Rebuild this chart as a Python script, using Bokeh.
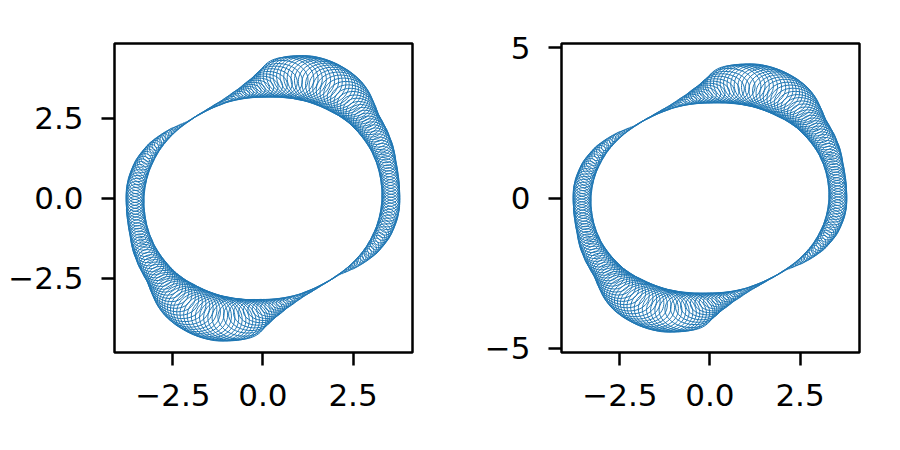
import math
from bokeh.plotting import figure
from bokeh.models import ColumnDataSource, Range1d, FixedTicker
from bokeh.layouts import row
from bokeh.embed import file_html
from bokeh.resources import INLINE

# The traced band, every 1.5 degrees over half a turn (the other half is
# its mirror through the origin): direction of the station (degrees), inner and outer edge
# of the band of little loops at that direction (data units from the origin).
station_angle_deg = [-46, -44.5, -43, -41.5, -40, -38.5, -37, -35.5, -34, -32.5,
                     -31, -29.5, -28, -26.5, -25, -23.5, -22, -20.5, -19, -17.5,
                     -16, -14.5, -13, -11.5, -10, -8.5, -7, -5.5, -4, -2.5,
                     -1, 0.5, 2, 3.5, 5, 6.5, 8, 9.5, 11, 12.5,
                     14, 15.5, 17, 18.5, 20, 21.5, 23, 24.5, 26, 27.5,
                     29, 30.5, 32, 33.5, 35, 36.5, 38, 39.5, 41, 42.5,
                     44, 45.5, 47, 48.5, 50, 51.5, 53, 54.5, 56, 57.5,
                     59, 60.5, 62, 63.5, 65, 66.5, 68, 69.5, 71, 72.5,
                     74, 75.5, 77, 78.5, 80, 81.5, 83, 84.5, 86, 87.5,
                     89, 90.5, 92, 93.5, 95, 96.5, 98, 99.5, 101, 102.5,
                     104, 105.5, 107, 108.5, 110, 111.5, 113, 114.5, 116, 117.5,
                     119, 120.5, 122, 123.5, 125, 126.5, 128, 129.5, 131, 132.5]
band_inner = [3.18, 3.18, 3.19, 3.19, 3.20, 3.20, 3.21, 3.21, 3.22, 3.22,
              3.23, 3.23, 3.24, 3.24, 3.24, 3.25, 3.25, 3.25, 3.26, 3.26,
              3.27, 3.27, 3.27, 3.28, 3.28, 3.28, 3.29, 3.29, 3.29, 3.30,
              3.30, 3.30, 3.30, 3.31, 3.31, 3.31, 3.31, 3.32, 3.32, 3.32,
              3.33, 3.33, 3.33, 3.34, 3.34, 3.34, 3.34, 3.35, 3.35, 3.35,
              3.35, 3.35, 3.35, 3.35, 3.35, 3.35, 3.35, 3.35, 3.35, 3.35,
              3.35, 3.35, 3.34, 3.34, 3.33, 3.33, 3.32, 3.31, 3.30, 3.30,
              3.29, 3.29, 3.28, 3.28, 3.27, 3.27, 3.26, 3.26, 3.25, 3.24,
              3.23, 3.23, 3.22, 3.21, 3.20, 3.20, 3.19, 3.18, 3.17, 3.17,
              3.16, 3.16, 3.16, 3.16, 3.16, 3.16, 3.16, 3.16, 3.16, 3.16,
              3.16, 3.16, 3.16, 3.16, 3.16, 3.15, 3.15, 3.15, 3.15, 3.15,
              3.15, 3.15, 3.15, 3.15, 3.16, 3.16, 3.16, 3.16, 3.17, 3.17]
band_outer = [3.21, 3.24, 3.27, 3.30, 3.33, 3.37, 3.40, 3.43, 3.46, 3.49,
              3.52, 3.55, 3.58, 3.61, 3.63, 3.65, 3.67, 3.69, 3.71, 3.73,
              3.74, 3.75, 3.76, 3.77, 3.78, 3.79, 3.79, 3.80, 3.80, 3.80,
              3.80, 3.80, 3.80, 3.80, 3.80, 3.81, 3.81, 3.82, 3.82, 3.83,
              3.84, 3.85, 3.86, 3.87, 3.89, 3.91, 3.93, 3.95, 3.97, 3.99,
              4.00, 4.02, 4.04, 4.06, 4.07, 4.09, 4.11, 4.13, 4.15, 4.18,
              4.22, 4.26, 4.31, 4.35, 4.40, 4.45, 4.50, 4.54, 4.58, 4.61,
              4.63, 4.65, 4.66, 4.67, 4.68, 4.68, 4.68, 4.67, 4.66, 4.63,
              4.60, 4.57, 4.54, 4.50, 4.46, 4.35, 4.24, 4.15, 4.06, 3.97,
              3.89, 3.82, 3.76, 3.70, 3.64, 3.58, 3.53, 3.49, 3.45, 3.41,
              3.37, 3.34, 3.31, 3.28, 3.26, 3.24, 3.23, 3.21, 3.20, 3.19,
              3.18, 3.17, 3.17, 3.17, 3.17, 3.17, 3.17, 3.18, 3.18, 3.19]

x_ticks = [-2.5, 0, 2.5]
x_tick_labels = ["\u22122.5", "0.0", "2.5"]
left_y_ticks = [-2.5, 0, 2.5]
left_y_tick_labels = ["\u22122.5", "0.0", "2.5"]
right_y_ticks = [-5, 0, 5]
right_y_tick_labels = ["\u22125", "0", "5"]

LINE_COLOR = "#1f77b4"
KAPPA = 0.5523       # cubic Bezier handle length for a quarter ellipse
LOOP_STRETCH = 0.12  # extra half length of each little loop along the band


def loop_table(angles, inner, outer):
    cols = {k: [] for k in ("x0", "y0", "x1", "y1", "cx0", "cy0", "cx1", "cy1")}
    for ang, rin, rout in zip(angles, inner, outer):
        t = math.radians(ang)
        c, s = math.cos(t), math.sin(t)
        mid = (rin + rout) / 2.0
        half = (rout - rin) / 2.0
        along = half + LOOP_STRETCH
        u = (half * c, half * s)
        v = (-along * s, along * c)
        rel = [u, v, (-u[0], -u[1]), (-v[0], -v[1])]
        for sign in (1, -1):
            ox, oy = sign * mid * c, sign * mid * s
            for i in range(4):
                a = rel[i]
                b = rel[(i + 1) % 4]
                cols["x0"].append(ox + a[0]); cols["y0"].append(oy + a[1])
                cols["x1"].append(ox + b[0]); cols["y1"].append(oy + b[1])
                cols["cx0"].append(ox + a[0] + KAPPA * b[0]); cols["cy0"].append(oy + a[1] + KAPPA * b[1])
                cols["cx1"].append(ox + b[0] + KAPPA * a[0]); cols["cy1"].append(oy + b[1] + KAPPA * a[1])
    return cols


def style_axis(ax, ticks, labels, standoff):
    ax.ticker = FixedTicker(ticks=ticks)
    ax.major_label_overrides = dict(zip(ticks, labels))
    ax.minor_tick_line_color = None
    ax.major_tick_out = 13
    ax.major_tick_in = 0
    ax.major_tick_line_width = 2.5
    ax.major_tick_line_color = "black"
    ax.axis_line_color = None
    ax.major_label_text_font = "DejaVu Sans"
    ax.major_label_text_font_size = "31px"
    ax.major_label_text_color = "black"
    ax.major_label_standoff = standoff


def make_fig(y_start, y_end, y_ticks, y_labels, border_left, border_right):
    p = figure(x_range=Range1d(-4.12, 4.15), y_range=Range1d(y_start, y_end),
               frame_width=298, frame_height=309,
               min_border_left=border_left, min_border_right=border_right,
               min_border_top=43, min_border_bottom=60,
               output_backend="svg", toolbar_location=None)
    src = ColumnDataSource(loop_table(station_angle_deg, band_inner, band_outer))
    p.bezier(x0="x0", y0="y0", x1="x1", y1="y1", cx0="cx0", cy0="cy0",
             cx1="cx1", cy1="cy1", source=src, line_color=LINE_COLOR, line_width=1.0)
    p.grid.visible = False
    p.outline_line_color = "black"
    p.outline_line_width = 2.5
    p.outline_line_alpha = 1.0
    p.background_fill_color = "white"
    p.border_fill_color = "white"
    style_axis(p.xaxis[0], x_ticks, x_tick_labels, 18)
    style_axis(p.yaxis[0], y_ticks, y_labels, 18)
    return p


p1 = make_fig(-4.82, 4.84, left_y_ticks, left_y_tick_labels, 114, 40)
p2 = make_fig(-5.14, 5.14, right_y_ticks, right_y_tick_labels, 109, 20)

layout = row(p1, p2)
open("out.html", "w").write(file_html(layout, INLINE))
